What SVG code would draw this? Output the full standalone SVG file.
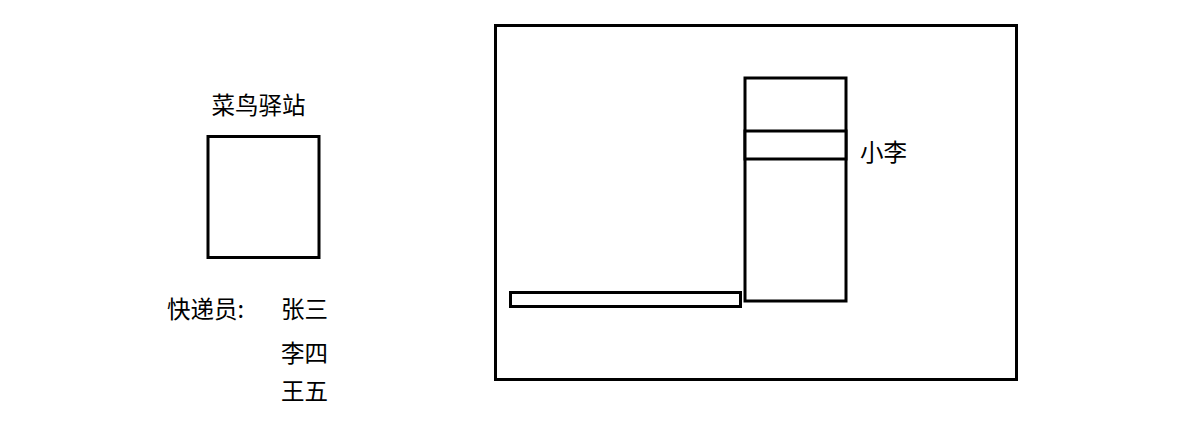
<svg xmlns="http://www.w3.org/2000/svg" width="1192" height="423" viewBox="0 0 1192 423">
<style>
.b{fill:#fff;stroke:#000;stroke-width:3}
.t{font-family:"Noto Sans CJK SC","Noto Sans",sans-serif;font-size:23.5px;fill:#000}
</style>
<rect width="1192" height="423" fill="#fff"/>
<g id="station">
<text class="t" x="258.5" y="114" text-anchor="middle">菜鸟驿站</text>
<rect class="b" x="208" y="136.5" width="111" height="121"/>
</g>
<g id="couriers">
<text class="t" x="167" y="318">快递员:</text>
<text class="t" x="281" y="318">张三</text>
<text class="t" x="281" y="362">李四</text>
<text class="t" x="281" y="400">王五</text>
</g>
<g id="room">
<rect class="b" x="495.5" y="25.5" width="521" height="354"/>
</g>
<g id="shelf">
<rect class="b" x="745" y="78" width="101" height="223"/>
<rect class="b" x="745" y="131" width="101" height="28"/>
</g>
<g id="counter">
<rect class="b" x="510.5" y="292.5" width="230" height="14"/>
</g>
<g id="label">
<text class="t" x="860" y="161">小李</text>
</g>
<g id="connectors"/>
</svg>
